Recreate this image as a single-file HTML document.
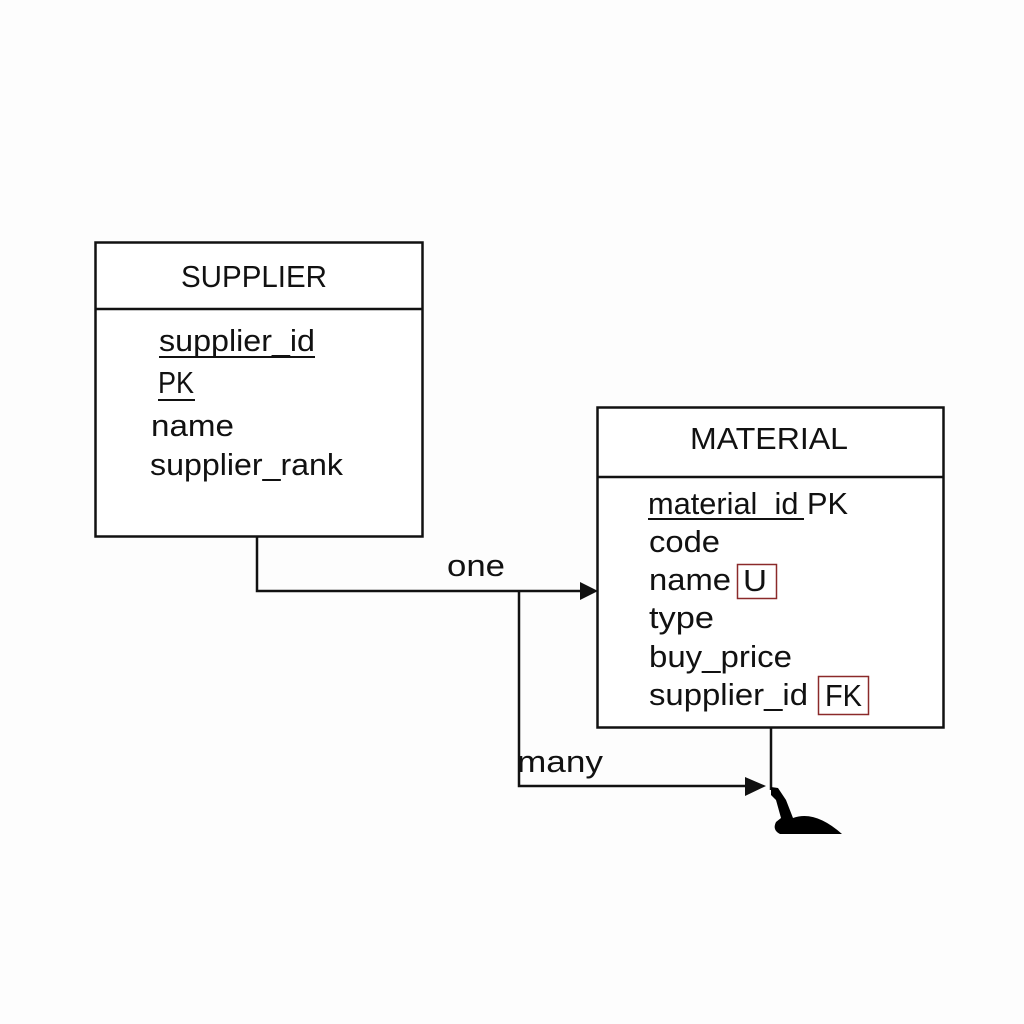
<!DOCTYPE html>
<html><head><meta charset="utf-8"><style>html,body{margin:0;padding:0;background:#fff}svg{display:block}</style></head>
<body>
<svg width="1024" height="1024" viewBox="0 0 1024 1024" xmlns="http://www.w3.org/2000/svg" font-family="Liberation Sans, sans-serif" font-size="31" fill="#111">
<rect x="0" y="0" width="1024" height="1024" fill="#fdfdfd"/>
<g fill="none" stroke="#111" stroke-width="2.5">
<rect x="95.5" y="242.5" width="327" height="294" fill="#fff"/>
<line x1="95" y1="309" x2="423" y2="309"/>
<rect x="597.5" y="407.5" width="346" height="320" fill="#fff"/>
<line x1="597" y1="477" x2="944" y2="477"/>
<polyline points="257,537 257,591 585,591"/>
<polyline points="519,591 519,786 750,786"/>
<line x1="771" y1="728" x2="771" y2="790"/>
<line x1="159" y1="357" x2="315" y2="357" stroke-width="2"/>
<line x1="158" y1="400" x2="195" y2="400" stroke-width="2"/>
<line x1="648" y1="519" x2="804" y2="519" stroke-width="2"/>
<rect x="737.5" y="564.5" width="39" height="34" stroke="#8b2a2a" stroke-width="1.5"/>
<rect x="818.5" y="676.5" width="50" height="38" stroke="#8b2a2a" stroke-width="1.5"/>
</g>
<polygon points="580,582 598,591 580,600" fill="#111"/>
<polygon points="745,777 766,786 745,796" fill="#111"/>
<path d="M771,787 L778,788 L786,800 L793,818 Q815,810 842,834 L780,834 Q772,830 776,822 L781,818 L776,800 L771,795 Z" fill="#000"/>
<text x="254" y="287" text-anchor="middle" textLength="146" lengthAdjust="spacingAndGlyphs">SUPPLIER</text>
<text x="159" y="351" textLength="156" lengthAdjust="spacingAndGlyphs">supplier_id</text>
<text x="158" y="393" textLength="36" lengthAdjust="spacingAndGlyphs">PK</text>
<text x="151" y="436" textLength="83" lengthAdjust="spacingAndGlyphs">name</text>
<text x="150" y="475" textLength="193" lengthAdjust="spacingAndGlyphs">supplier_rank</text>
<text x="769" y="449" text-anchor="middle" textLength="158" lengthAdjust="spacingAndGlyphs">MATERIAL</text>
<text x="648" y="514" textLength="200" lengthAdjust="spacingAndGlyphs">material_id PK</text>
<text x="649" y="552" textLength="71" lengthAdjust="spacingAndGlyphs">code</text>
<text x="649" y="590" textLength="82" lengthAdjust="spacingAndGlyphs">name</text>
<text x="743" y="591" textLength="24" lengthAdjust="spacingAndGlyphs">U</text>
<text x="649" y="628" textLength="65" lengthAdjust="spacingAndGlyphs">type</text>
<text x="649" y="667" textLength="143" lengthAdjust="spacingAndGlyphs">buy_price</text>
<text x="649" y="705" textLength="159" lengthAdjust="spacingAndGlyphs">supplier_id</text>
<text x="825" y="706" textLength="37" lengthAdjust="spacingAndGlyphs">FK</text>
<text x="447" y="576" textLength="58" lengthAdjust="spacingAndGlyphs">one</text>
<text x="517" y="772" textLength="86" lengthAdjust="spacingAndGlyphs">many</text>
</svg>
</body></html>
